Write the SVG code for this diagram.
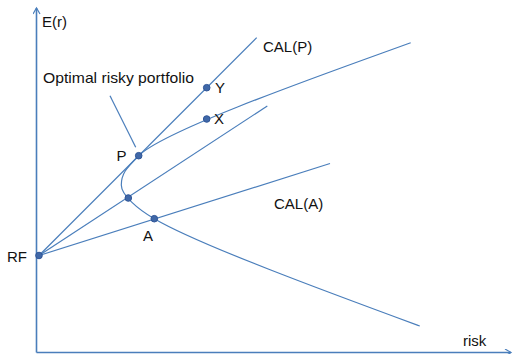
<svg xmlns="http://www.w3.org/2000/svg" width="513" height="354" viewBox="0 0 513 354">
<defs>
<style>
.ln{fill:none;stroke:#4a7ebb;stroke-width:1.2}
.ax{fill:none;stroke:#4a7ebb;stroke-width:1.6}
.dot{fill:#4068a8;stroke:#2f5597;stroke-width:1}
.t{font-family:"Liberation Sans",Arial,sans-serif;font-size:15px;fill:#111}
</style>
<marker id="arr" markerWidth="10" markerHeight="10" refX="7" refY="4" orient="auto" markerUnits="userSpaceOnUse">
<path d="M1,0.5 L7,4 L1,7.5" fill="none" stroke="#4a7ebb" stroke-width="1.2"/>
</marker>
</defs>
<rect width="513" height="354" fill="#fff"/>
<g id="axes">
<line class="ax" x1="36.5" y1="352.5" x2="36.5" y2="8" marker-end="url(#arr)"/>
<line class="ax" x1="36.5" y1="352.5" x2="511" y2="352.5" marker-end="url(#arr)"/>
</g>
<g id="connectors">
<line class="ln" x1="39" y1="255.5" x2="256.7" y2="37.7"/>
<line class="ln" x1="39" y1="255.5" x2="267.3" y2="106"/>
<line class="ln" x1="39" y1="255.5" x2="330" y2="163.5"/>
<path class="ln" d="M410.7,42.7 C330,72 165,129.5 138.7,155.7 C126,168.4 121.3,174 121.3,185 C121.3,195 138,209.5 154.3,218.7 C198,244.5 330,293 419.7,326"/>
<line class="ln" x1="110" y1="95.7" x2="135.7" y2="147.3"/>
</g>
<g id="RF"><circle class="dot" cx="39" cy="255.5" r="3.3"/><text class="t" x="7" y="262">RF</text></g>
<g id="P"><circle class="dot" cx="138.7" cy="155.7" r="3.3"/><text class="t" x="116.5" y="161">P</text></g>
<g id="MV"><circle class="dot" cx="128.3" cy="198" r="3.3"/></g>
<g id="A"><circle class="dot" cx="154.3" cy="218.7" r="3.3"/><text class="t" x="143" y="241">A</text></g>
<g id="Y"><circle class="dot" cx="206.7" cy="87.7" r="3.3"/><text class="t" x="215" y="93">Y</text></g>
<g id="X"><circle class="dot" cx="206.7" cy="119" r="3.3"/><text class="t" x="214" y="124">X</text></g>
<g id="labels">
<text class="t" x="42" y="27">E(r)</text>
<text class="t" x="43" y="83" textLength="151" lengthAdjust="spacingAndGlyphs">Optimal risky portfolio</text>
<text class="t" x="263" y="52">CAL(P)</text>
<text class="t" x="274" y="209">CAL(A)</text>
<text class="t" x="463" y="346">risk</text>
</g>
</svg>
